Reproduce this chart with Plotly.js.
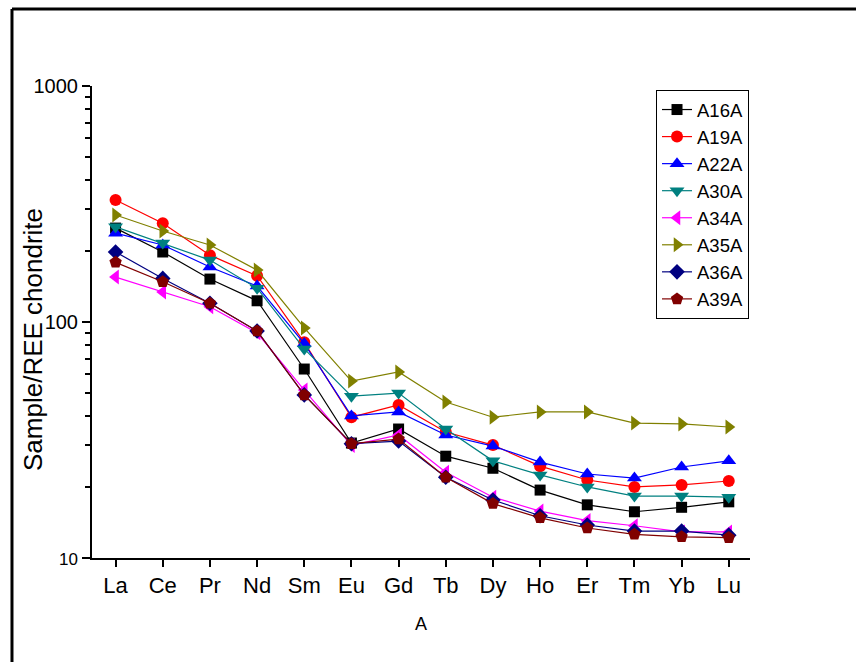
<!DOCTYPE html>
<html>
<head>
<meta charset="utf-8">
<script src="https://cdn.plot.ly/plotly-3.0.1.min.js"></script>
<style>html,body{margin:0;padding:0;background:#fff;}#chart{width:856px;height:662px;}</style>
</head>
<body>
<div id="chart"></div>
<script>
// Categories (REE elements)
const elements = ["La","Ce","Pr","Nd","Sm","Eu","Gd","Tb","Dy","Ho","Er","Tm","Yb","Lu"];

// Series values (sample / chondrite)
const A16A = [250, 198, 152, 123, 63.2, 30.7, 35.2, 27.0, 24.0, 19.4, 16.8, 15.7, 16.4, 17.3];
const A19A = [329, 262, 192, 157, 82, 39.5, 44.5, 34.2, 30.1, 24.5, 21.4, 20.0, 20.4, 21.2];
const A22A = [238, 212, 171, 142, 81, 40, 41.6, 33.2, 29.8, 25.5, 22.7, 21.8, 24.3, 25.8];
const A30A = [253, 216, 183, 139, 76.9, 48.5, 50, 35.2, 25.8, 22.5, 20.0, 18.3, 18.3, 18.1];
const A34A = [155, 134, 116, 90, 51.5, 30, 33.2, 23.1, 18.1, 15.8, 14.4, 13.7, 12.9, 12.9];
const A35A = [284, 243, 212, 166, 94.4, 56.2, 61.4, 45.8, 39.5, 41.6, 41.6, 37.3, 37.0, 35.9];
const A36A = [198, 153, 120, 91.6, 49.1, 30.5, 31.3, 22.0, 17.6, 15.1, 13.8, 13.0, 13.0, 12.5];
const A39A = [179, 148, 120, 91.6, 49.1, 30.5, 31.9, 22.0, 17.0, 14.8, 13.4, 12.6, 12.3, 12.2];

// Tick labels
const yTickVals = [10, 100, 1000];
const yTickText = ['<span style="font-size:17px">10</span>', '100', '1000'];

const seriesNames = ["A16A","A19A","A22A","A30A","A34A","A35A","A36A","A39A"];
const seriesData = [A16A, A19A, A22A, A30A, A34A, A35A, A36A, A39A];
const colors = ["#000000","#FF0000","#0000FF","#008080","#FF00FF","#808000","#000080","#800000"];
const symbols = ["square","circle","triangle-up","triangle-down","triangle-left","triangle-right","diamond","pentagon"];
const sizes = [11, 12, 13, 13, 13, 13, 12, 13];

const FONT = "Liberation Sans, Arial, sans-serif";

const traces = seriesNames.map((name, i) => ({
  type: "scatter",
  mode: "lines+markers",
  name: name,
  x: elements,
  y: seriesData[i],
  line: {color: colors[i], width: 1.2},
  marker: {color: colors[i], symbol: symbols[i], size: sizes[i], line: {width: 0}},
  xaxis: "x",
  yaxis: "y"
}));

const layout = {
  width: 856,
  height: 662,
  margin: {l: 92, r: 106, t: 86, b: 104},
  paper_bgcolor: "#ffffff",
  plot_bgcolor: "#ffffff",
  font: {family: FONT, color: "#000000"},
  showlegend: true,
  legend: {
    x: 0.9985, y: 0.9915, xanchor: "right", yanchor: "top",
    bgcolor: "#ffffff", bordercolor: "#000000", borderwidth: 1,
    font: {family: FONT, size: 18.5, color: "#000000"},
    tracegroupgap: 0
  },
  xaxis: {
    type: "category",
    range: [-0.5, 13.45],
    showgrid: false, zeroline: false,
    showline: true, linecolor: "#000000", linewidth: 2,
    ticks: "outside", ticklen: 7, tickwidth: 2, tickcolor: "#000000",
    tickfont: {family: FONT, size: 22},
    title: {text: "A", font: {family: FONT, size: 18}, standoff: 20},
    fixedrange: true
  },
  xaxis2: {
    overlaying: "x", side: "top", anchor: "y",
    range: [0, 10], dtick: 1, tick0: 0,
    showgrid: false, zeroline: false,
    showline: true, linecolor: "#000000", linewidth: 2,
    ticks: "inside", ticklen: 7, tickwidth: 2, tickcolor: "#000000",
    showticklabels: false
  },
  yaxis: {
    type: "log",
    range: [1, 3],
    showgrid: false, zeroline: false,
    showline: true, linecolor: "#000000", linewidth: 2,
    tickmode: "array", tickvals: yTickVals, ticktext: yTickText,
    ticks: "outside", ticklen: 8, tickwidth: 2, tickcolor: "#000000",
    tickfont: {family: FONT, size: 20},
    minor: {dtick: "D1", ticks: "outside", ticklen: 5, tickwidth: 2, tickcolor: "#000000", showgrid: false},
    fixedrange: true
  },
  yaxis2: {
    type: "log",
    overlaying: "y", side: "right", anchor: "x",
    range: [0, 3], dtick: 1,
    showgrid: false, zeroline: false,
    showline: true, linecolor: "#000000", linewidth: 2,
    ticks: "inside", ticklen: 8, tickwidth: 2, tickcolor: "#000000",
    minor: {dtick: "D1", ticks: "inside", ticklen: 5, tickwidth: 2, tickcolor: "#000000", showgrid: false},
    showticklabels: false
  },
  annotations: [
    {text: "Sample/REE chondrite", xref: "paper", yref: "paper", x: -0.0897, y: 0.464,
     xanchor: "center", yanchor: "middle", textangle: -90, showarrow: false,
     font: {family: FONT, size: 26, color: "#000000"}}
  ],
  shapes: [
    {type: "line", xref: "paper", yref: "paper", x0: -0.1216, x1: 1.17, y0: 1.1631, y1: 1.1631, line: {color: "#000000", width: 3}},
    {type: "line", xref: "paper", yref: "paper", x0: -0.1216, x1: -0.1216, y0: 1.1631, y1: -0.23, line: {color: "#000000", width: 3}}
  ]
};

Plotly.newPlot("chart", traces, layout, {displayModeBar: false, staticPlot: true});
</script>
</body>
</html>
